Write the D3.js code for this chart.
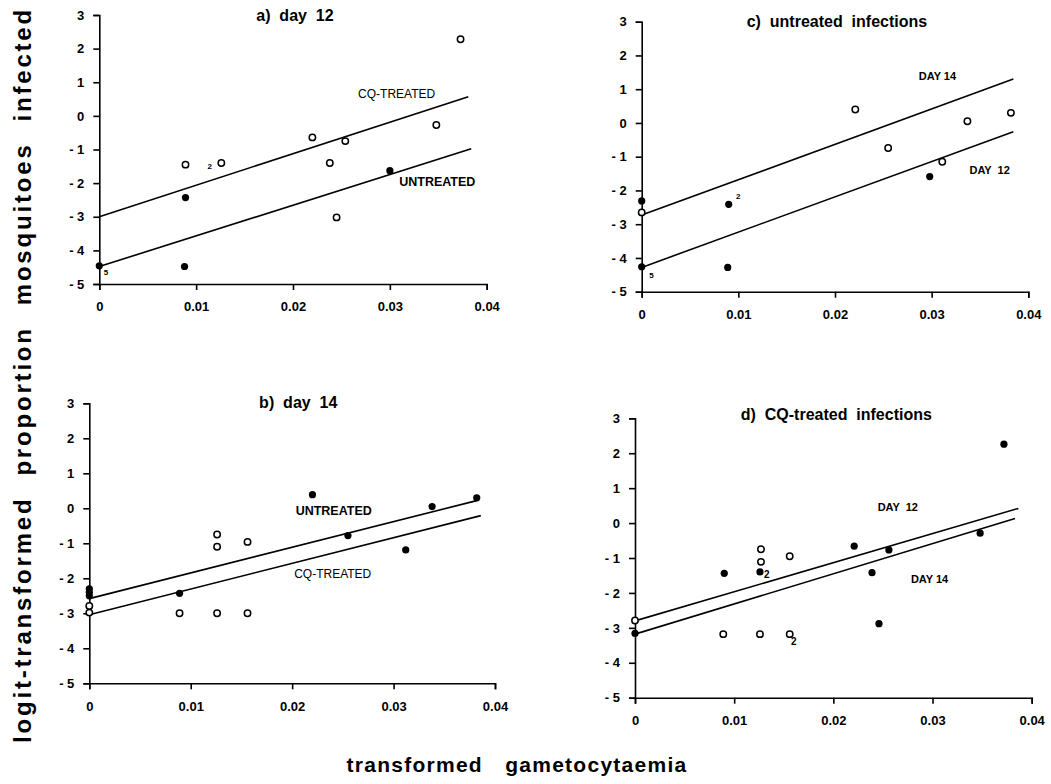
<!DOCTYPE html>
<html>
<head>
<meta charset="utf-8">
<script src="https://cdn.jsdelivr.net/npm/d3@7"></script>
<style>
  body { margin: 0; background: #fff; }
  svg { font-family: "Liberation Sans", Arial, Helvetica, sans-serif; }
  .axis path, .axis line { stroke: #000; stroke-width: 1.6; }
  .axis text { font-size: 13px; font-weight: bold; fill: #000; }
</style>
</head>
<body>
<svg id="chart" width="1051" height="784"></svg>
<script>
// tick values shared by all four panels
const xTicks = [0, 0.01, 0.02, 0.03, 0.04];
const yTicks = [3, 2, 1, 0, -1, -2, -3, -4, -5];

// a) day 12 : open = CQ-treated, filled = untreated
const aOpen = [[0.0089, -1.45], [0.0126, -1.4], [0.0220, -0.64], [0.0238, -1.4],
  [0.0254, -0.75], [0.0245, -3.02], [0.0348, -0.27], [0.0373, 2.28]];
const aFilled = [[0, -4.46], [0.0089, -2.43], [0.0088, -4.48], [0.0300, -1.63]];
const aLineCQ = [[0, -3.0], [0.0381, 0.57]];
const aLineUn = [[0, -4.48], [0.0384, -0.98]];

// b) day 14 : open = CQ-treated, filled = untreated
const bOpen = [[0, -2.79], [0, -2.98], [0.0089, -3.0], [0.0126, -0.75], [0.0126, -1.1],
  [0.0126, -3.0], [0.0156, -0.96], [0.0156, -3.0]];
const bFilled = [[0, -2.3], [0, -2.4], [0, -2.5], [0.0089, -2.43], [0.0220, 0.39],
  [0.0255, -0.78], [0.0312, -1.19], [0.0338, 0.05], [0.0382, 0.30]];
const bLineUn = [[0, -2.58], [0.0382, 0.22]];
const bLineCQ = [[0, -3.04], [0.0386, -0.21]];

// c) untreated infections : open = day 14, filled = day 12
const cOpen = [[0, -2.65], [0.0221, 0.4], [0.0255, -0.74], [0.0311, -1.15],
  [0.0337, 0.05], [0.0382, 0.3]];
const cFilled = [[0, -2.31], [0, -4.26], [0.0090, -2.41], [0.0089, -4.28], [0.0298, -1.59]];
const cLine14 = [[0, -2.73], [0.03845, 1.30]];
const cLine12 = [[0, -4.28], [0.03845, -0.26]];

// d) CQ-treated infections : open = day 14, filled = day 12
const dOpen = [[0, -2.79], [0.0089, -3.18], [0.0127, -0.75], [0.0127, -1.11],
  [0.0126, -3.18], [0.0156, -0.95], [0.0156, -3.18]];
const dFilled = [[0, -3.16], [0.0090, -1.44], [0.0126, -1.40], [0.0221, -0.66],
  [0.0239, -1.42], [0.0246, -2.88], [0.0256, -0.77], [0.0348, -0.29], [0.0372, 2.26]];
const dLine12 = [[0, -2.80], [0.03866, 0.42]];
const dLine14 = [[0, -3.18], [0.03832, 0.13]];

const svg = d3.select("#chart");

const panels = [
  { title: "a)  day  12", titleAt: [0.0202, 2.94], frame: [99.3, 486.7, 284, 15],
    open: aOpen, filled: aFilled,
    lines: [aLineCQ, aLineUn],
    notes: [
      { t: "CQ-TREATED", at: [0.0307, 0.62], w: "normal", s: 12 },
      { t: "UNTREATED", at: [0.0349, -2.0], w: "bold", s: 12.5 },
      { t: "5", at: [0.0007, -4.68], w: "bold", s: 8 },
      { t: "2", at: [0.0114, -1.51], w: "bold", s: 8 }
    ] },
  { title: "b)  day  14", titleAt: [0.0206, 3.0], frame: [89.3, 495, 683.3, 403.3],
    open: bOpen, filled: bFilled,
    lines: [bLineUn, bLineCQ],
    notes: [
      { t: "UNTREATED", at: [0.0241, -0.10], w: "bold", s: 12.5 },
      { t: "CQ-TREATED", at: [0.0240, -1.89], w: "normal", s: 12 }
    ] },
  { title: "c)  untreated  infections", titleAt: [0.0202, 2.96], frame: [641.7, 1028.3, 291.7, 21.7],
    open: cOpen, filled: cFilled,
    lines: [cLine14, cLine12],
    notes: [
      { t: "DAY 14", at: [0.0306, 1.36], w: "bold" },
      { t: "DAY  12", at: [0.0360, -1.42], w: "bold" },
      { t: "2", at: [0.0100, -2.18], w: "bold", s: 8 },
      { t: "5", at: [0.0010, -4.53], w: "bold", s: 8 }
    ] },
  { title: "d)  CQ-treated  infections", titleAt: [0.0203, 3.07], frame: [635, 1031.7, 697.7, 418.3],
    open: dOpen, filled: dFilled,
    lines: [dLine12, dLine14],
    notes: [
      { t: "DAY  12", at: [0.0265, 0.42], w: "bold" },
      { t: "DAY 14", at: [0.0297, -1.63], w: "bold" },
      { t: "2", at: [0.0133, -1.51], w: "bold", s: 10 },
      { t: "2", at: [0.0160, -3.41], w: "bold", s: 10 }
    ] }
];

const yFmt = d => d < 0 ? "- " + Math.abs(d) : String(d);
const xFmt = d => d === 0 ? "0" : d3.format(".2f")(d);

panels.forEach(p => {
  const [x0, x1, y0, y1] = p.frame;
  const x = d3.scaleLinear().domain([0, 0.04]).range([x0, x1]);
  const y = d3.scaleLinear().domain([-5, 3]).range([y0, y1]);
  const g = svg.append("g");

  g.append("g").attr("class", "axis")
    .attr("transform", `translate(0,${y0})`)
    .call(d3.axisBottom(x).tickValues(xTicks).tickFormat(xFmt).tickSize(6).tickPadding(12));

  g.append("g").attr("class", "axis")
    .attr("transform", `translate(${x0},0)`)
    .call(d3.axisLeft(y).tickValues(yTicks).tickFormat(yFmt).tickSize(6).tickPadding(9));

  // regression lines
  g.selectAll(".fit").data(p.lines).enter().append("line")
    .attr("x1", d => x(d[0][0])).attr("y1", d => y(d[0][1]))
    .attr("x2", d => x(d[1][0])).attr("y2", d => y(d[1][1]))
    .attr("stroke", "#000").attr("stroke-width", 1.6);

  g.selectAll(".open").data(p.open).enter().append("circle")
    .attr("cx", d => x(d[0])).attr("cy", d => y(d[1])).attr("r", 3.2)
    .attr("fill", "#fff").attr("stroke", "#000").attr("stroke-width", 1.5);

  g.selectAll(".filled").data(p.filled).enter().append("circle")
    .attr("cx", d => x(d[0])).attr("cy", d => y(d[1])).attr("r", 3.6)
    .attr("fill", "#000");

  g.append("text")
    .attr("x", x(p.titleAt[0])).attr("y", y(p.titleAt[1]))
    .attr("text-anchor", "middle").attr("dominant-baseline", "middle")
    .style("font-size", "16px").style("font-weight", "bold")
    .style("white-space", "pre")
    .text(p.title);

  g.selectAll(".note").data(p.notes).enter().append("text")
    .attr("x", d => x(d.at[0])).attr("y", d => y(d.at[1]))
    .attr("text-anchor", "middle").attr("dominant-baseline", "middle")
    .style("font-size", d => (d.s || 11) + "px")
    .style("font-weight", d => d.w)
    .style("white-space", "pre")
    .text(d => d.t);
});

// shared axis titles: fixed word gap, letter spacing stretched to the target width
function fitLabel(sel, target, wordGap) {
  sel.style("word-spacing", wordGap + "px").style("letter-spacing", "0px");
  const len = sel.node().getComputedTextLength();
  const n = sel.text().length;
  sel.style("letter-spacing", Math.max(0, (target - len) / n) + "px");
}

const xTitle = svg.append("text")
  .attr("x", 517).attr("y", 772)
  .attr("text-anchor", "middle")
  .style("font-size", "21px").style("font-weight", "bold")
  .style("white-space", "pre")
  .text("transformed  gametocytaemia");
fitLabel(xTitle, 341, 4);

const yTitle = svg.append("text")
  .attr("transform", "translate(31,375) rotate(-90)")
  .attr("text-anchor", "middle")
  .style("font-size", "24px").style("font-weight", "bold")
  .style("white-space", "pre")
  .text("logit-transformed  proportion  mosquitoes  infected");
fitLabel(yTitle, 736, 1);
</script>
</body>
</html>
